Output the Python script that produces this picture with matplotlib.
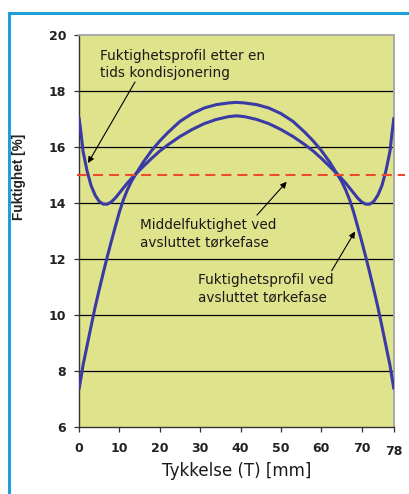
import matplotlib
matplotlib.use("Agg")
import matplotlib.pyplot as plt
import matplotlib.transforms as mtransforms
from matplotlib.patches import Rectangle

# thickness position [mm]
thickness = [0, 0.5, 1, 2, 3, 4, 5, 6, 7, 8, 9, 10, 11, 12, 13, 14, 16, 18, 20, 22, 25, 28, 31, 34, 37, 39,
             41, 44, 47, 50, 53, 56, 58, 60, 62, 64, 65, 66, 67, 68, 69, 70, 71, 72, 73, 74, 75, 76, 77, 77.5, 78]

# moisture profile at end of drying phase [%]
profile_drying = [7.33, 7.75, 8.2, 8.9, 9.6, 10.28, 10.9, 11.5, 12.08, 12.63, 13.16, 13.68, 14.12, 14.48,
                  14.78, 15.02, 15.48, 15.88, 16.22, 16.52, 16.92, 17.2, 17.4, 17.52, 17.58, 17.6,
                  17.58, 17.52, 17.4, 17.2, 16.92, 16.52, 16.22, 15.88, 15.48, 15.02, 14.78, 14.48, 14.12,
                  13.68, 13.16, 12.63, 12.08, 11.5, 10.9, 10.28, 9.6, 8.9, 8.2, 7.75, 7.33]

# moisture profile after conditioning [%]
profile_cond = [17.07, 16.5, 15.85, 15.15, 14.62, 14.28, 14.06, 13.96, 13.96, 14.04, 14.18, 14.36, 14.54, 14.72,
                14.88, 15.03, 15.32, 15.6, 15.86, 16.08, 16.38, 16.63, 16.84, 16.99, 17.09, 17.12,
                17.09, 16.99, 16.84, 16.63, 16.38, 16.08, 15.86, 15.6, 15.32, 15.03, 14.88, 14.72, 14.54,
                14.36, 14.18, 14.04, 13.96, 13.96, 14.06, 14.28, 14.62, 15.15, 15.85, 16.5, 17.07]

mean_moisture = 15.0

xticks = [0, 10, 20, 30, 40, 50, 60, 70, 78]
yticks = [6, 8, 10, 12, 14, 16, 18, 20]

curve_col = '#3a3aa6'
bg_col = '#dfe48c'

fig = plt.figure(figsize=(4.10, 4.94), dpi=100)
fig.patch.set_facecolor('white')

# blue frame round the figure (cut at right and bottom)
frame = Rectangle((9 / 410, -0.05), 1.2, 1 - 13.3 / 494 + 0.05, transform=fig.transFigure,
                  fill=False, edgecolor='#1e9fd6', lw=2.2, zorder=0)
fig.patches.append(frame)

ax = fig.add_axes([79 / 410, 1 - 426.7 / 494, 315 / 410, 391.4 / 494])
ax.set_facecolor(bg_col)

for y in yticks[1:-1]:
    ax.axhline(y, color='black', lw=0.9, zorder=1)

ax.plot(thickness, profile_drying, color=curve_col, lw=2.2, zorder=3, solid_capstyle='butt')
ax.plot(thickness, profile_cond, color=curve_col, lw=2.2, zorder=3, solid_capstyle='butt')
ax.axhline(mean_moisture, xmin=-0.005, xmax=1.035, color='#ef4a2e', lw=1.5,
           linestyle=(0, (4.8, 2.9)), clip_on=False, zorder=4)

ax.set_xlim(0, 78)
ax.set_ylim(6, 20)
ax.set_xticks(xticks)
ax.set_yticks(yticks)
ax.tick_params(axis='both', direction='out', length=3.6, width=0.9, color='#333333')
ax.tick_params(axis='y', pad=5.5)
ax.tick_params(axis='x', pad=7.5)
for lab in ax.get_xticklabels() + ax.get_yticklabels():
    lab.set_fontweight('bold')
    lab.set_fontsize(9)
    lab.set_color('#222222')
# last x label sits a little lower
last = ax.get_xticklabels()[-1]
last.set_transform(last.get_transform() + mtransforms.ScaledTranslation(0, -3 / 100, fig.dpi_scale_trans))

for side in ['left', 'bottom']:
    ax.spines[side].set_color('#333333')
    ax.spines[side].set_linewidth(1.0)
for side in ['top', 'right']:
    ax.spines[side].set_color('#a8a8a8')
    ax.spines[side].set_linewidth(1.4)

ax.set_xlabel('Tykkelse (T) [mm]', fontsize=12, color='#1a1a1a', labelpad=3)
ax.set_ylabel('Fuktighet [%]', fontsize=9.8, fontweight='bold', color='#222222', family='Liberation Sans')
ax.yaxis.set_label_coords(-0.168, 0.639)

note_font = dict(family='DejaVu Sans', fontsize=9.8, color='#1a1a1a', linespacing=1.3, va='center', ha='left')
ax.text(5.2, 18.96, 'Fuktighetsprofil etter en\ntids kondisjonering', **note_font)
ax.text(15.1, 12.90, 'Middelfuktighet ved\navsluttet tørkefase', **note_font)
ax.text(29.5, 10.94, 'Fuktighetsprofil ved\navsluttet tørkefase', **note_font)

arrow = dict(arrowstyle='-|>', color='black', lw=0.8, mutation_scale=9, shrinkA=0, shrinkB=0)
ax.annotate('', xy=(2.23, 15.43), xytext=(13.87, 18.33), arrowprops=arrow, zorder=5)
ax.annotate('', xy=(51.43, 14.76), xytext=(44.07, 13.57), arrowprops=arrow, zorder=5)
ax.annotate('', xy=(68.34, 12.98), xytext=(62.57, 11.58), arrowprops=arrow, zorder=5)

fig.savefig('out.png', dpi=100)
